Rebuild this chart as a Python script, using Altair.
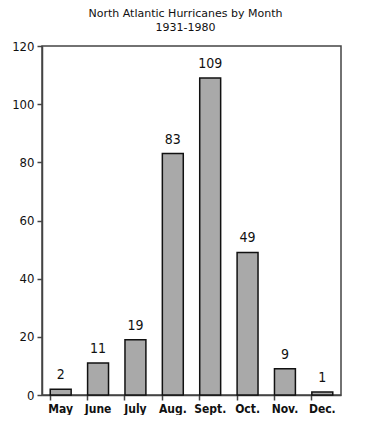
import altair as alt
import pandas as pd

months = ["May", "June", "July", "Aug.", "Sept.", "Oct.", "Nov.", "Dec."]
counts = [2, 11, 19, 83, 109, 49, 9, 1]
y_ticks = list(range(0, 121, 10))

df = pd.DataFrame({"month": months, "count": counts})

NARROW = "Liberation Sans Narrow, DejaVu Sans Condensed, Arial Narrow, sans-serif"

x = alt.X("month:N", sort=months, title=None,
          scale=alt.Scale(paddingInner=0.44, paddingOuter=0.22),
          axis=alt.Axis(bandPosition=0, tickSize=5, labelAngle=0,
                        labelFont=NARROW, labelFontSize=12, labelFontWeight="bold",
                        labelColor="#111", labelPadding=3,
                        domainColor="#444", domainWidth=1.5,
                        tickColor="#444", tickWidth=1.5))
y = alt.Y("count:Q", title=None,
          scale=alt.Scale(domain=[0, 120], nice=False),
          axis=alt.Axis(values=y_ticks, grid=False,
                        labelExpr="datum.value % 20 === 0 ? datum.label : ''",
                        tickSize={"condition": {"test": "datum.value % 20 === 0", "value": 5}, "value": 2},
                        labelFont=NARROW, labelFontSize=13, labelColor="#111", labelPadding=3,
                        domainColor="#444", domainWidth=1.5,
                        tickColor="#444", tickWidth=1.5))

bars = alt.Chart(df).mark_bar(color="#a9a9a9", stroke="#111", strokeWidth=1.5).encode(x=x, y=y)
labels = alt.Chart(df).mark_text(dy=-7, font=NARROW, fontSize=14, color="#111", baseline="bottom").encode(
    x=alt.X("month:N", sort=months), y="count:Q", text="count:Q")

chart = (bars + labels).properties(
    width=299, height=349,
    title=alt.TitleParams(["North Atlantic Hurricanes by Month", "1931-1980"],
                          font="DejaVu Sans", fontSize=11, fontWeight="normal",
                          lineHeight=14, offset=7, color="#111", dx=-6),
    autosize=alt.AutoSizeParams(type="none"),
    padding={"left": 34, "top": 38, "right": 20, "bottom": 20},
).configure_view(stroke="#444", strokeWidth=1.5)

chart.save("out.html", embed_options={"renderer": "svg", "actions": False})
